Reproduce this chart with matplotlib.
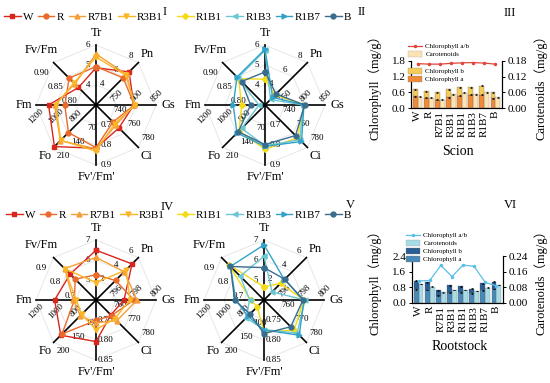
import numpy as np
import matplotlib
matplotlib.use("Agg")
import matplotlib.pyplot as plt
from matplotlib.lines import Line2D
from matplotlib.patches import Patch

plt.rcParams['font.family'] = ['Liberation Serif', 'Noto Sans CJK SC']
CJK = ['Liberation Serif', 'Noto Sans CJK SC']

W_PX, H_PX = 550, 383
fig = plt.figure(figsize=(5.5, 3.83), dpi=100)

# ---------------- radar data ----------------
axis_names = ['Tr', 'Pn', 'Gs', 'Ci', "Fv'/Fm'", 'Fo', 'Fm', 'Fv/Fm']
axis_angles = [90, 45, 0, -45, -90, -135, 180, 135]

top_ranges = [(3, 6), (2, 8), (700, 850), (720, 780), (0.6, 0.9), (0, 210), (600, 1200), (0.75, 0.90)]
top_ticks = [['4', '5', '6'], ['4', '6', '8'], ['750', '800', '850'], ['740', '760', '780'],
             ['0.7', '0.8', '0.9'], ['70', '140', '210'], ['800', '1000', '1200'], ['0.80', '0.85', '0.90']]
bot_ranges = [(4, 7), (0, 6), (794, 800), (750, 780), (0.70, 0.85), (50, 200), (600, 1200), (0.6, 0.9)]
bot_ticks = [['5', '6', '7'], ['2', '4', '6'], ['796', '798', '800'], ['760', '770', '780'],
             ['0.75', '0.80', '0.85'], ['100', '150', '200'], ['800', '1000', '1200'], ['0.7', '0.8', '0.9']]

# Scion (panels I, II)     Tr    Pn    Gs     Ci     Fv'/Fm' Fo     Fm    Fv/Fm
scion_W    = [4.86, 6.68, 794.5, 752.4, 0.816, 205.8, 1074, 0.812]
scion_R    = [4.92, 5.84, 796.0, 744.0, 0.813, 136.5, 912, 0.845]
scion_R7B1 = [5.55, 6.32, 796.0, 748.2, 0.819, 176.4, 1014, 0.825]
scion_R3B1 = [5.40, 6.20, 797.5, 746.4, 0.831, 174.3, 1002, 0.828]
scion_R1B1 = [4.29, 3.44, 797.5, 766.2, 0.822, 128.0, 834, 0.843]
scion_R1B3 = [5.73, 2.78, 796.0, 769.2, 0.804, 115.5, 660, 0.846]
scion_R1B7 = [5.79, 3.08, 797.5, 771.6, 0.807, 138.6, 918, 0.849]
scion_B    = [4.65, 3.56, 799.0, 763.2, 0.798, 132.3, 744, 0.833]

# Rootstock (panels IV, V)
root_W    = [6.49, 5.10, 796.8, 760.5, 0.804, 174.5, 1014, 0.783]
root_R    = [5.26, 2.76, 797.8, 761.0, 0.751, 170.0, 816, 0.747]
root_R7B1 = [6.13, 4.00, 798.1, 764.7, 0.757, 105.5, 828, 0.822]
root_R3B1 = [4.87, 4.26, 797.4, 763.2, 0.774, 101.0, 798, 0.822]
root_R1B1 = [4.66, 2.34, 798.0, 771.3, 0.780, 74.0, 732, 0.849]
root_R1B3 = [6.19, 1.14, 798.1, 773.4, 0.774, 113.0, 744, 0.768]
root_R1B7 = [6.76, 2.88, 798.0, 774.9, 0.775, 107.0, 882, 0.837]
root_B    = [5.62, 2.94, 797.9, 768.9, 0.784, 99.5, 894, 0.837]

grp1 = ['W', 'R', 'R7B1', 'R3B1']
grp2 = ['R1B1', 'R1B3', 'R1B7', 'B']
series_colors = {'W': '#d8261d', 'R': '#ea6a2b', 'R7B1': '#f59d39', 'R3B1': '#fbb626',
                 'R1B1': '#f3dc17', 'R1B3': '#6cc7d3', 'R1B7': '#33a2c8', 'B': '#3a6c8e'}
series_markers = {'W': 's', 'R': 'o', 'R7B1': '^', 'R3B1': 'v',
                  'R1B1': 'D', 'R1B3': '<', 'R1B7': '>', 'B': 'o'}

# ---------------- bar data ----------------
cats = ['W', 'R', 'R7B1', 'R3B1', 'R1B1', 'R1B3', 'R1B7', 'B']
scion_chl_a = [0.45, 0.39, 0.31, 0.41, 0.47, 0.50, 0.50, 0.37]
scion_chl_b = [0.27, 0.25, 0.30, 0.31, 0.32, 0.30, 0.36, 0.24]
scion_car   = [0.043, 0.039, 0.031, 0.052, 0.059, 0.053, 0.061, 0.042]
scion_ab    = [1.70, 1.68, 1.68, 1.71, 1.73, 1.74, 1.72, 1.68]

root_chl_a = [0.70, 0.66, 0.38, 0.52, 0.55, 0.50, 0.65, 0.72]
root_chl_b = [0.43, 0.40, 0.27, 0.38, 0.30, 0.23, 0.35, 0.36]
root_car   = [0.097, 0.084, 0.055, 0.066, 0.066, 0.061, 0.079, 0.092]
root_ab    = [1.12, 1.15, 1.92, 1.35, 1.94, 1.87, 1.05, 0.88]

err_chl = [0.02] * 8
err_car = [0.002] * 8

# tick-label offsets (px right, px down, rotation)
tick_offsets = [(-8, 0, 0), (-8, -7, 0), (1, -9, 45), (10, -9, 0),
                (10, 0, 0), (10, 9, 0), (0, 11, 45), (-12, 10, 0)]
RPX = 60.0


def radar(cx, cy, names, data, ranges, ticks, leg_xy, plabel, plabel_xy):
    half = 1.5
    size = 2 * half * RPX
    ax = fig.add_axes([(cx - half * RPX) / W_PX, 1 - (cy + half * RPX) / H_PX,
                       size / W_PX, size / H_PX])
    ax.set_xlim(-half, half)
    ax.set_ylim(-half, half)
    ax.axis('off')
    th = np.deg2rad(axis_angles)
    thc = np.append(th, th[0])
    for g in (1 / 3, 2 / 3, 1.0):
        ax.plot(g * np.cos(thc), g * np.sin(thc), color='#e3e3e3', lw=0.6, zorder=0)
    for t in th:
        ax.plot([0, np.cos(t)], [0, np.sin(t)], color='black', lw=1.2, zorder=1)
    for i, t in enumerate(th):
        dx, dy, rot = tick_offsets[i]
        for k, lab in enumerate(ticks[i]):
            r = (k + 1) / 3
            ax.text(r * np.cos(t) + dx / RPX, r * np.sin(t) - dy / RPX, lab, fontsize=6.5,
                    ha='center', va='center', rotation=rot, zorder=2)
    for t, n in zip(th, axis_names):
        rr = 1.2
        if n == 'Fv/Fm':
            rr = 1.3
        ax.text(rr * np.cos(t), rr * np.sin(t), n, fontsize=9, ha='center', va='center')
    handles = []
    for n in names:
        vals = data[n]
        r = np.array([(v - lo) / (hi - lo) for v, (lo, hi) in zip(vals, ranges)])
        rc = np.append(r, r[0])
        h, = ax.plot(rc * np.cos(thc), rc * np.sin(thc), color=series_colors[n],
                     marker=series_markers[n], ms=3.5 if series_markers[n] != 'D' else 3,
                     lw=1.0, zorder=3, label=n)
        handles.append(h)
    fig.legend(handles=handles, loc='center left',
               bbox_to_anchor=(leg_xy[0] / W_PX, 1 - leg_xy[1] / H_PX),
               ncol=4, frameon=False, fontsize=8, handlelength=1.5,
               handletextpad=0.2, columnspacing=0.4, borderaxespad=0, borderpad=0)
    fig.text(plabel_xy[0] / W_PX, 1 - plabel_xy[1] / H_PX, plabel, fontsize=9,
             ha='center', va='center')


scion = {'W': scion_W, 'R': scion_R, 'R7B1': scion_R7B1, 'R3B1': scion_R3B1,
         'R1B1': scion_R1B1, 'R1B3': scion_R1B3, 'R1B7': scion_R1B7, 'B': scion_B}
root = {'W': root_W, 'R': root_R, 'R7B1': root_R7B1, 'R3B1': root_R3B1,
        'R1B1': root_R1B1, 'R1B3': root_R1B3, 'R1B7': root_R1B7, 'B': root_B}

radar(96, 105, grp1, scion, top_ranges, top_ticks, (4, 17), 'I', (165, 12))
radar(265, 105, grp2, scion, top_ranges, top_ticks, (177, 17), 'II', (362, 12))
radar(96, 300, grp1, root, bot_ranges, bot_ticks, (6, 215), 'IV', (167, 207))
radar(264, 300, grp2, root, bot_ranges, bot_ticks, (177, 215), 'V', (350, 205))


def bars(left, top, right, bottom, a, b, car, ab, cols, ymax_l, yt_l, ymax_r, yt_r,
         xlabel, xlabel_y, plabel, plabel_xy, split_legend):
    ax = fig.add_axes([left / W_PX, 1 - bottom / H_PX, (right - left) / W_PX, (bottom - top) / H_PX])
    ax2 = ax.twinx()
    x = np.arange(len(cats))
    w = 0.42
    ca, cb, cc, cl = cols
    ax.bar(x - 0.22, a, w, color=ca, edgecolor='#555555', lw=0.2, zorder=2)
    ax.bar(x - 0.22, b, w, bottom=a, color=cb, edgecolor='#555555', lw=0.2, zorder=2)
    ax.errorbar(x - 0.22, a, yerr=err_chl, fmt='none', ecolor='black', elinewidth=0.5,
                capsize=1, capthick=0.5, zorder=3)
    ax.errorbar(x - 0.22, np.array(a) + np.array(b), yerr=err_chl, fmt='none', ecolor='black',
                elinewidth=0.5, capsize=1, capthick=0.5, zorder=3)
    ax2.bar(x + 0.22, car, w, color=cc, edgecolor='#777777', lw=0.2, zorder=2)
    ax2.errorbar(x + 0.22, car, yerr=err_car, fmt='none', ecolor='black', elinewidth=0.5,
                 capsize=1, capthick=0.5)
    ax.plot(x, ab, color=cl, marker='o', ms=1.5, lw=0.9, zorder=4)
    ax.set_zorder(ax2.get_zorder() + 1)
    ax.patch.set_visible(False)
    ax.set_xlim(-0.6, len(cats) - 0.4)
    ax.set_ylim(0, ymax_l)
    ax2.set_ylim(0, ymax_r)
    ax.set_yticks(yt_l)
    ax.set_yticklabels([f'{v:.1f}' for v in yt_l])
    ax2.set_yticks(yt_r)
    ax2.set_yticklabels([f'{v:.2f}' for v in yt_r])
    ax.set_xticks(x)
    ax.set_xticklabels(cats, rotation=90)
    for a_ in (ax, ax2):
        a_.spines['top'].set_visible(False)
        for s in a_.spines.values():
            s.set_linewidth(0.8)
        a_.tick_params(labelsize=8, length=2.5, width=0.7, pad=1.5)
    ax.tick_params(axis='x', length=0, pad=2)
    ax.set_ylabel('Chlorophyll（mg/g）', fontsize=9, family=CJK)
    ax.yaxis.set_label_coords((381 - left) / (right - left), 0.5)
    ax2.set_ylabel('Carotenoids（mg/g）', fontsize=9, family=CJK, rotation=90)
    ax2.yaxis.set_label_coords((534 - left) / (right - left), 0.5)
    ax.set_xlabel(xlabel, fontsize=10)
    ax.xaxis.set_label_coords(0.52, -(xlabel_y - bottom) / (bottom - top))
    hl = Line2D([], [], color=cl, marker='o', ms=1.5, lw=0.9)
    hc = Patch(facecolor=cc, edgecolor='#999999', lw=0.2)
    hb = Patch(facecolor=cb, edgecolor='#777777', lw=0.2)
    ha = Patch(facecolor=ca, edgecolor='#777777', lw=0.2)
    kw = dict(frameon=False, fontsize=5, handlelength=2.0, handleheight=0.9,
              handletextpad=0.5, labelspacing=0.25, borderaxespad=0, borderpad=0, loc='upper left')
    if split_legend:
        fig.legend([hl, hc], ['Chlorophyll a/b', 'Carotenoids'],
                   bbox_to_anchor=(408 / W_PX, 1 - 43 / H_PX), **kw)
        fig.legend([hb, ha], ['Chlorophyll b', 'Chlorophyll a'],
                   bbox_to_anchor=(408 / W_PX, 1 - 68 / H_PX), **kw)
    else:
        fig.legend([hl, hc, hb, ha], ['Chlorophyll a/b', 'Carotenoids', 'Chlorophyll b', 'Chlorophyll a'],
                   bbox_to_anchor=(406 / W_PX, 1 - 232 / H_PX), **kw)
    fig.text(plabel_xy[0] / W_PX, 1 - plabel_xy[1] / H_PX, plabel, fontsize=9, ha='center', va='center')
    return ax


bars(411, 61, 502, 108, scion_chl_a, scion_chl_b, scion_car, scion_ab,
     ('#ee8a3a', '#f6cb5a', '#fbe3b4', '#e0453c'),
     1.8, [0.0, 0.6, 1.2, 1.8], 0.18, [0.0, 0.06, 0.12, 0.18],
     'Scion', 145, 'III', (510, 13), True)
bars(412, 256, 503, 303, root_chl_a, root_chl_b, root_car, root_ab,
     ('#4a88b6', '#2b5f94', '#a7dbe5', '#5cbfe6'),
     2.4, [0.0, 0.8, 1.6, 2.4], 0.24, [0.0, 0.08, 0.16, 0.24],
     'Rootstock', 340, 'VI', (510, 205), False)

fig.savefig('out.png', dpi=100)
